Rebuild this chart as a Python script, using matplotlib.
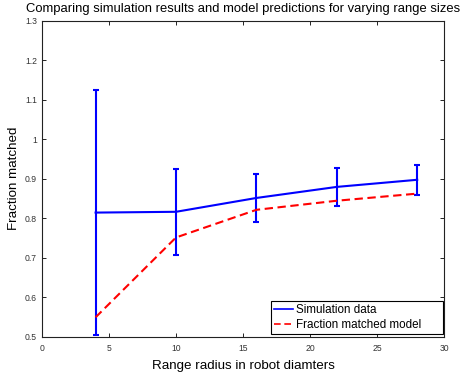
import matplotlib
matplotlib.use("Agg")
import matplotlib.pyplot as plt
from matplotlib.lines import Line2D
import numpy as np

plt.rcParams['font.family'] = ['Liberation Sans', 'DejaVu Sans']

radius = [4, 10, 16, 22, 28]
sim_mean = [0.814, 0.816, 0.851, 0.879, 0.897]
sim_err = [0.310, 0.109, 0.061, 0.048, 0.038]
model = [0.549, 0.751, 0.821, 0.844, 0.862]

fig = plt.figure(figsize=(4.68, 3.80), dpi=100)
ax = fig.add_axes([0.0897, 0.114, 0.859, 0.832])

ax.errorbar(radius, sim_mean, yerr=sim_err, color='blue', lw=1.5,
            elinewidth=1.5, capsize=2.5, capthick=1.5)
ax.plot(radius, model, '--', color='red', lw=1.5, dashes=(4, 2.2))

ax.set_xlim(0, 30)
ax.set_ylim(0.5, 1.3)
ax.set_xticks(np.arange(0, 31, 5))
ax.set_yticks(np.arange(0.5, 1.31, 0.1))
ax.set_yticklabels(['0.5', '0.6', '0.7', '0.8', '0.9', '1', '1.1', '1.2', '1.3'])
ax.tick_params(direction='in', top=True, right=True, labelsize=6.2, length=3,
               width=0.6, labelcolor='#333333')
ax.tick_params(axis='x', pad=5.5)
for s in ax.spines.values():
    s.set_linewidth(0.8)
    s.set_color('#222222')

ax.set_xlabel('Range radius in robot diamters', fontsize=9.6, labelpad=5)
ax.set_ylabel('Fraction matched', fontsize=9.6)
ax.set_title('Comparing simulation results and model predictions for varying range sizes',
             fontsize=9.4, pad=6)

# plain line handles, like the original legend
handles = [Line2D([], [], color='blue', lw=1.2),
           Line2D([], [], color='red', lw=1.2, ls='--', dashes=(4, 2.2))]
labels = ['Simulation data', 'Fraction matched model']
leg = ax.legend(handles, labels, loc='lower left', mode='expand',
                bbox_to_anchor=(0.57, 0.008, 0.428, 0.11), borderaxespad=0,
                fontsize=8.4, fancybox=False, framealpha=1, edgecolor='black',
                handlelength=1.6, handletextpad=0.3, labelspacing=0.25,
                borderpad=0.25)
leg.get_frame().set_linewidth(0.8)

fig.savefig('out.png', dpi=100)
